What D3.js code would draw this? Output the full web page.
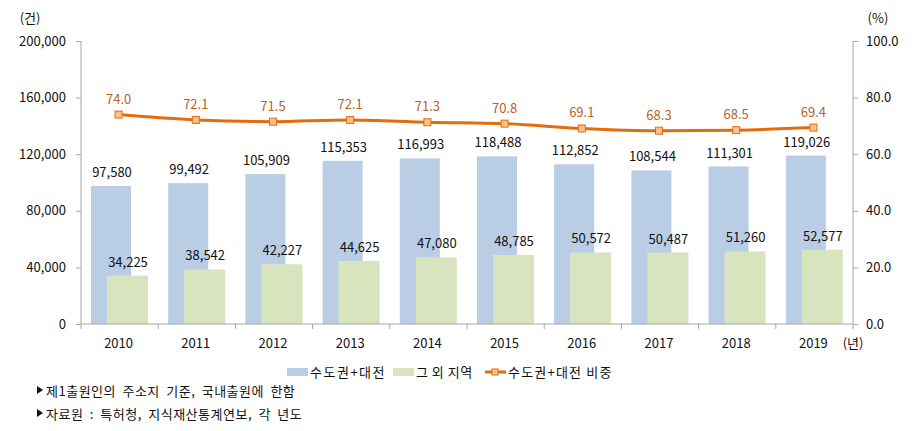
<!DOCTYPE html>
<html><head><meta charset="utf-8">
<script src="https://cdn.jsdelivr.net/npm/d3@7/dist/d3.min.js"></script>
<style>
body{margin:0;background:#fff;}
text{font-family:"Noto Sans CJK KR","Malgun Gothic",sans-serif;}
</style></head>
<body><svg id="c" width="912" height="431"></svg>
<script>
const years = ["2010","2011","2012","2013","2014","2015","2016","2017","2018","2019"];
const capital = [97580,99492,105909,115353,116993,118488,112852,108544,111301,119026];
const others = [34225,38542,42227,44625,47080,48785,50572,50487,51260,52577];
const share = [74.0,72.1,71.5,72.1,71.3,70.8,69.1,68.3,68.5,69.4];
const leftTicks = [0,40000,80000,120000,160000,200000];
const rightTicks = [0,20,40,60,80,100];
const seriesNames = ["수도권+대전","그 외 지역","수도권+대전 비중"];
const notes = ["제1출원인의 주소지 기준, 국내출원에 한함","자료원 : 특허청, 지식재산통계연보, 각 년도"];

const svg = d3.select("#c");
const L=81, R=853, T=41, B=324;
const x = d3.scaleBand().domain(years).range([L,R]);
const yL = d3.scaleLinear().domain([0,200000]).range([B,T]);
const yR = d3.scaleLinear().domain([0,100]).range([B,T]);
const blue="#B9CDE5", green="#D7E4BD", orange="#E46C0A", mfill="#FAC090", lab="#B8622A", axc="#A6A6A6";
const fmt = d3.format(",");
const fs = 13;

// axes
const gl = svg.append("g").attr("transform",`translate(${L},0)`)
  .call(d3.axisLeft(yL).tickValues(leftTicks).tickFormat(fmt).tickSize(5).tickPadding(10));
const gr = svg.append("g").attr("transform",`translate(${R},0)`)
  .call(d3.axisRight(yR).tickValues(rightTicks).tickFormat(d3.format(".1f")).tickSize(5).tickPadding(8));
[gl,gr].forEach(g=>{
  g.select(".domain").attr("stroke",axc).attr("d", `M0,${T}V${B}`);
  g.selectAll(".tick line").attr("stroke",axc);
  g.selectAll(".tick text").attr("font-size",fs).attr("fill","#111").style("font-family","'Noto Sans CJK KR',sans-serif");
});

// bars
const bw = 40, off = 16;
const g0 = 10;
svg.append("g").selectAll("rect").data(years).join("rect")
  .attr("x",(d)=>x(d)+g0).attr("width",bw)
  .attr("y",(d,i)=>yL(capital[i])).attr("height",(d,i)=>B-yL(capital[i])).attr("fill",blue);
svg.append("g").selectAll("rect").data(years).join("rect")
  .attr("x",(d)=>x(d)+g0+off).attr("width",bw+1)
  .attr("y",(d,i)=>yL(others[i])).attr("height",(d,i)=>B-yL(others[i])).attr("fill",green);

// bottom axis
const gb = svg.append("g").attr("transform",`translate(0,${B})`);
gb.append("line").attr("x1",L).attr("x2",R).attr("stroke",axc);
const bnd = years.map(d=>x(d)).concat([R]);
gb.selectAll("line.t").data(bnd).join("line").attr("class","t")
  .attr("x1",d=>d).attr("x2",d=>d).attr("y1",0).attr("y2",5).attr("stroke",axc);
gb.selectAll("text").data(years).join("text")
  .attr("x",d=>x(d)+x.bandwidth()/2-1).attr("y",24).attr("text-anchor","middle")
  .attr("font-size",fs).attr("fill","#111").text(d=>d);

// bar labels
svg.append("g").selectAll("text").data(years).join("text")
  .attr("x",d=>x(d)+g0+bw/2+1).attr("y",(d,i)=>yL(capital[i])-9)
  .attr("text-anchor","middle").attr("font-size",fs).attr("fill","#111").text((d,i)=>fmt(capital[i]));
svg.append("g").selectAll("text").data(years).join("text")
  .attr("x",d=>x(d)+g0+off+bw/2+1).attr("y",(d,i)=>yL(others[i])-9)
  .attr("text-anchor","middle").attr("font-size",fs).attr("fill","#111").text((d,i)=>fmt(others[i]));

// line
const cx = d=>x(d)+x.bandwidth()/2-1;
svg.append("path").datum(years).attr("fill","none").attr("stroke",orange).attr("stroke-width",3)
  .attr("d", d3.line().x(cx).y((d,i)=>yR(share[i])).curve(d3.curveMonotoneX));
svg.append("g").selectAll("rect").data(years).join("rect")
  .attr("x",d=>cx(d)-3.5).attr("y",(d,i)=>yR(share[i])-3.5).attr("width",7).attr("height",7)
  .attr("fill",mfill).attr("stroke",orange).attr("stroke-width",1);
svg.append("g").selectAll("text").data(years).join("text")
  .attr("x",cx).attr("y",(d,i)=>yR(share[i])-11).attr("text-anchor","middle")
  .attr("font-size",fs).attr("fill",lab).text((d,i)=>d3.format(".1f")(share[i]));

// unit labels
svg.append("text").attr("x",30).attr("y",23).attr("text-anchor","middle").attr("font-size",fs).attr("fill","#111").text("(건)");
svg.append("text").attr("x",878).attr("y",23).attr("text-anchor","middle").attr("font-size",fs).attr("fill","#111").text("(%)");
svg.append("text").attr("x",853).attr("y",348).attr("text-anchor","middle").attr("font-size",fs).attr("fill","#111").text("(년)");

// legend
const lg = svg.append("g");
lg.append("rect").attr("x",287).attr("y",368).attr("width",21).attr("height",8).attr("fill",blue);
lg.append("text").attr("x",310).attr("y",377).attr("font-size",fs).attr("fill","#111").attr("letter-spacing",1.5).text(seriesNames[0]);
lg.append("rect").attr("x",393).attr("y",368).attr("width",21).attr("height",8).attr("fill",green);
lg.append("text").attr("x",416).attr("y",377).attr("font-size",fs).attr("fill","#111").attr("letter-spacing",0.5).text(seriesNames[1]);
lg.append("line").attr("x1",485).attr("x2",506).attr("y1",372).attr("y2",372).attr("stroke",orange).attr("stroke-width",3);
lg.append("rect").attr("x",492).attr("y",369).attr("width",6).attr("height",6).attr("fill",mfill).attr("stroke",orange);
lg.append("text").attr("x",508).attr("y",377).attr("font-size",fs).attr("fill","#111").attr("letter-spacing",1.2).text(seriesNames[2]);

// notes
notes.forEach((n,i)=>{
  const yy = 396 + i*23;
  svg.append("path").attr("d",`M37,${yy-10}L43,${yy-6}L37,${yy-2}Z`).attr("fill","#111");
  svg.append("text").attr("x",46).attr("y",yy).attr("font-size",fs).attr("fill","#111")
    .attr("letter-spacing",0.5).attr("word-spacing",3).text(n);
});
</script></body></html>
